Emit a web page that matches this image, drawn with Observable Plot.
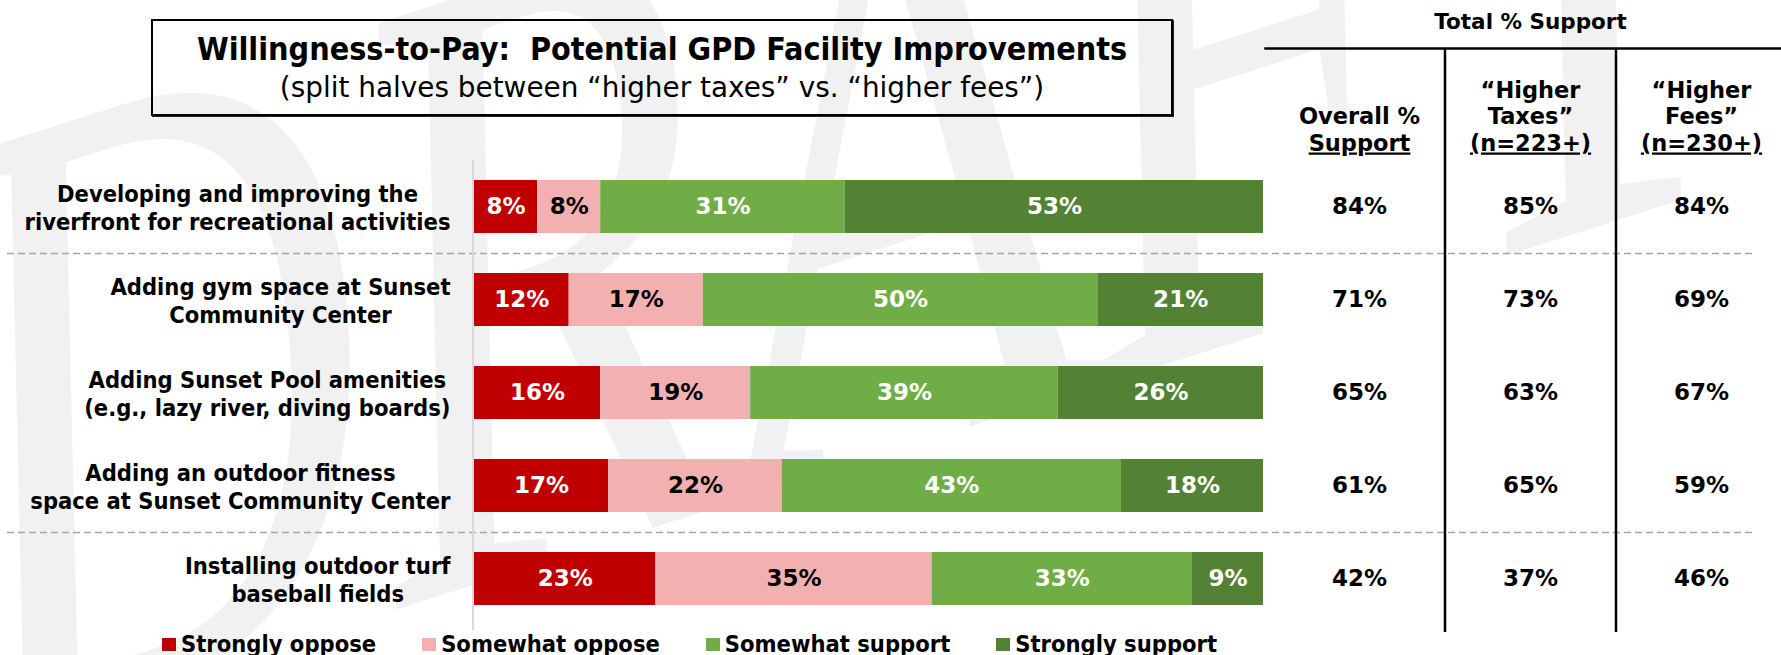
<!DOCTYPE html>
<html>
<head>
<meta charset="utf-8">
<script src="https://cdn.jsdelivr.net/npm/d3@7"></script>
<script src="https://cdn.jsdelivr.net/npm/@observablehq/plot@0.6"></script>
<style>
  html, body { margin: 0; padding: 0; background: #fff; }
  #page { position: relative; width: 1781px; height: 655px; overflow: hidden; background: #fff; }
  #page > * { position: absolute; }
  #titlebox { left: 151px; top: 19px; width: 1022px; height: 97px; box-sizing: border-box; border: 2px solid #000; box-shadow: 1px 1px 0 #222; }
  #titlebox div { position: absolute; left: 0; right: 0; text-align: center; white-space: pre; color: #000; }
  #title { top: 8px; font-family: "DejaVu Sans Condensed", "DejaVu Sans", sans-serif; font-size: 32px; font-weight: bold; line-height: 40px; }
  #subtitle { top: 49px; font-family: "DejaVu Sans", sans-serif; font-size: 27.9px; line-height: 36px; }
  g[aria-description="underlined"] text { text-decoration: underline; text-decoration-thickness: 2px; text-underline-offset: 4px; }
  #legend { left: 162px; top: 626px; }
  #legend .lg-swatches { min-height: 36px !important; height: 36px; margin: 0 !important; font-family: "DejaVu Sans Condensed", "DejaVu Sans", sans-serif !important; font-size: 23.5px !important; font-weight: bold !important; color: #000; flex-wrap: nowrap !important; }
  #legend .lg-swatch { margin-right: 46px !important; white-space: nowrap; }
  #legend .lg-swatch > svg { margin-right: 5px !important; }
  .wm { transform: scaleY(1.5); transform-origin: 50% 50%; }
</style>
</head>
<body>
<div id="page">
  <div id="wm"></div>
  <div id="titlebox">
    <div id="title">Willingness-to-Pay:  Potential GPD Facility Improvements</div>
    <div id="subtitle">(split halves between “higher taxes” vs. “higher fees”)</div>
  </div>
</div>
<script>
// ---------- data ----------
const categories = [
  "Developing and improving the\nriverfront for recreational activities",
  "Adding gym space at Sunset\nCommunity Center",
  "Adding Sunset Pool amenities\n(e.g., lazy river, diving boards)",
  "Adding an outdoor fitness\nspace at Sunset Community Center",
  "Installing outdoor turf\nbaseball fields"
];
const levels = ["Strongly oppose", "Somewhat oppose", "Somewhat support", "Strongly support"];
const levelColors = ["#C00000", "#F2B0B0", "#70AD47", "#548235"];
const stronglyOppose  = [8, 12, 16, 17, 23];
const somewhatOppose  = [8, 17, 19, 22, 35];
const somewhatSupport = [31, 50, 39, 43, 33];
const stronglySupport = [53, 21, 26, 18, 9];
const overallSupport = [84, 71, 65, 61, 42];
const taxesSupport   = [85, 73, 63, 65, 37];
const feesSupport    = [84, 69, 67, 59, 46];
const tableTitle = "Total % Support";
const headLine1 = ["", "“Higher", "“Higher"];
const headLine2 = ["Overall %", "Taxes”", "Fees”"];
const headLine3 = ["Support", "(n=223+)", "(n=230+)"];
const watermark = "DRAFT";

// ---------- derived tables ----------
const series = [stronglyOppose, somewhatOppose, somewhatSupport, stronglySupport];
const rows = categories.flatMap((cat, i) => levels.map((level, j) => ({cat, level, value: series[j][i]})));
const tableCols = [overallSupport, taxesSupport, feesSupport];
const cells = categories.flatMap((cat, i) => tableCols.map((vals, col) => ({cat, col, value: vals[i]})));

const LABEL_FONT = '"DejaVu Sans Condensed", "DejaVu Sans", sans-serif';
const NUM_FONT = '"DejaVu Sans", sans-serif';
const LABEL_SIZE = 23.5;
const ctx = document.createElement("canvas").getContext("2d");
ctx.font = `bold ${LABEL_SIZE}px ${LABEL_FONT}`;
const blockWidth = s => Math.max(...s.split("\n").map(l => ctx.measureText(l).width));

const yOpts = {type: "band", domain: categories, range: [140, 645], padding: 0.43, round: false, axis: null};
const page = document.getElementById("page");
function place(el, left, top) {
  el.style.position = "absolute";
  el.style.left = left + "px";
  el.style.top = top + "px";
  page.appendChild(el);
  return el;
}

// ---------- watermark ----------
const wmPlot = Plot.plot({
  width: 1781, height: 655, margin: 0, className: "wmplot",
  style: {background: "transparent", overflow: "visible"},
  marks: [
    Plot.text([watermark], {frameAnchor: "middle", text: d => d, fontSize: 590, fontFamily: "Liberation Serif", fontStyle: "italic", fill: "#f1f1f1", rotate: -12, dx: -50, dy: -100})
  ]
});
wmPlot.classList.add("wm");
document.getElementById("wm").replaceWith(place(wmPlot, 0, 0));

// ---------- bars ----------
const numText = {fontSize: 23, fontWeight: "bold", fontFamily: NUM_FONT};
const barsPlot = Plot.plot({
  width: 1781, height: 655,
  marginLeft: 7, marginRight: 25, marginTop: 48, marginBottom: 23,
  x: {domain: [0, 100], range: [474, 1263], axis: null},
  y: yOpts,
  color: {domain: levels, range: levelColors},
  style: {background: "transparent", overflow: "visible"},
  marks: [
    Plot.ruleY([categories[1], categories[4]], {dy: -46.5, stroke: "#a6a6a6", strokeWidth: 1.5, strokeDasharray: "7,4"}),
    Plot.ruleX([0], {dx: -1.5, stroke: "#d9d9d9", strokeWidth: 2, insetTop: 112, insetBottom: 2}),
    Plot.barX(rows, Plot.stackX({x: "value", y: "cat", fill: "level"})),
    Plot.text(rows, Plot.stackX({x: "value", y: "cat", z: "level", text: d => d.level === levels[1] ? "" : d.value + "%", fill: "white", ...numText})),
    Plot.text(rows, Plot.stackX({x: "value", y: "cat", z: "level", text: d => d.level === levels[1] ? d.value + "%" : "", fill: "black", ...numText})),
    ...categories.map(cat => Plot.text([cat], {
      x: 0, y: d => d, text: d => d, textAnchor: "middle",
      dx: -(24 + blockWidth(cat) / 2),
      fontSize: LABEL_SIZE, fontWeight: "bold", fontFamily: LABEL_FONT, lineHeight: 28 / LABEL_SIZE, fill: "black"
    }))
  ]
});
place(barsPlot, 0, 0);

// ---------- table ----------
const headText = {frameAnchor: "top", lineAnchor: "bottom", fontSize: 22.5, fontWeight: "bold", fontFamily: NUM_FONT, fill: "black", text: d => d};
const tablePlot = Plot.plot({
  width: 516, height: 655,
  marginLeft: 0, marginRight: 0, marginTop: 48, marginBottom: 23,
  x: {domain: [-0.5, 2.5], range: [8.5, 521.5], axis: null},
  y: yOpts,
  style: {background: "transparent", overflow: "visible"},
  marks: [
    Plot.frame({anchor: "top", stroke: "black", strokeWidth: 2.5}),
    Plot.ruleX(d3.range(1, tableCols.length).map(i => i - 0.5), {stroke: "black", strokeWidth: 2.5}),
    Plot.text(cells, {x: "col", y: "cat", text: d => d.value + "%", fill: "black", ...numText}),
    Plot.text([tableTitle], {...headText, x: 1, dy: -20, fontSize: 21.5}),
    Plot.text(headLine1, {...headText, x: (d, i) => i, dy: 49}),
    Plot.text(headLine2, {...headText, x: (d, i) => i, dy: 75}),
    Plot.text(headLine3, {...headText, x: (d, i) => i, dy: 102, ariaDescription: "underlined"})
  ]
});
place(tablePlot, 1265, 0);

// title box on top
page.appendChild(document.getElementById("titlebox"));

// ---------- legend ----------
const legend = Plot.legend({
  color: {domain: levels, range: levelColors},
  legend: "swatches", swatchWidth: 14, swatchHeight: 13, className: "lg"
});
const legendWrap = document.createElement("div");
legendWrap.id = "legend";
legendWrap.appendChild(legend);
place(legendWrap, 162, 626);
</script>
</body>
</html>
